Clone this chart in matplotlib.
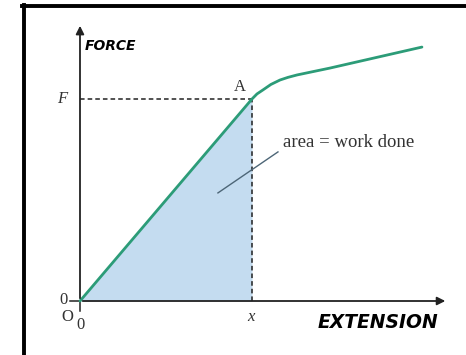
import matplotlib.pyplot as plt
from matplotlib.lines import Line2D

# green force-extension curve (extension in units of x, force in units of F)
ext = [0.0, 1.0, 1.029, 1.064, 1.110, 1.163, 1.209, 1.262, 1.453, 1.988]
force = [0.0, 1.0, 1.025, 1.045, 1.072, 1.094, 1.107, 1.119, 1.153, 1.257]
# shaded region under the linear part up to A
area_ext = [0.0, 1.0]
area_force = [0.0, 1.0]

fig = plt.figure(figsize=(4.66, 3.55), dpi=100)
ax = fig.add_axes([0, 0, 1, 1])
ax.set_xlim(-0.4651, 2.2442)
ax.set_ylim(-0.2673, 1.490)
ax.axis('off')

# frame (only top and left visible)
fig.add_artist(Line2D([23.8 / 466, 23.8 / 466], [0, 1 - 5 / 355], color='black', lw=2.8))
fig.add_artist(Line2D([22 / 466, 1], [1 - 6 / 355, 1 - 6 / 355], color='black', lw=2.8))

# axes with arrows
ax.annotate('', xy=(2.14, 0), xytext=(0, 0),
            arrowprops=dict(arrowstyle='-|>', color='#222222', lw=1.3, mutation_scale=12))
ax.annotate('', xy=(0, 1.376), xytext=(0, 0),
            arrowprops=dict(arrowstyle='-|>', color='#222222', lw=1.3, mutation_scale=12))

# small ticks at origin
ax.plot([-0.058, 0], [0, 0], color='#222222', lw=1.1)
ax.plot([0, 0], [0, -0.05], color='#222222', lw=1.1)

# shaded area
ax.fill_between(area_ext, area_force, 0, color='#c4dcf0', lw=0)

# dashed guides to A
ax.plot([0, 1], [1, 1], color='#222222', lw=1.1, ls=(0, (3, 2)))
ax.plot([1, 1], [0, 1], color='#222222', lw=1.1, ls=(0, (3, 2)))

# curve
ax.plot(ext, force, color='#2c9c78', lw=2.0, solid_capstyle='round', solid_joinstyle='round')

# pointer line
ax.plot([0.802, 1.151], [0.535, 0.738], color='#4d6677', lw=1.0)

comic = dict(fontweight='bold', fontstyle='italic', family='DejaVu Sans')
ax.text(0.03, 1.26, 'FORCE', fontsize=10, ha='left', va='center', **comic)
ax.text(1.38, -0.105, 'EXTENSION', fontsize=13.5, ha='left', va='center', **comic)

serif = dict(family='Liberation Serif', color='#333333')
ax.text(-0.075, 1.0, 'F', fontsize=12, fontstyle='italic', ha='right', va='center', **serif)
ax.text(-0.07, 0.005, '0', fontsize=12, ha='right', va='center', **serif)
ax.text(-0.075, -0.08, 'O', fontsize=12, ha='center', va='center', **serif)
ax.text(0.005, -0.12, '0', fontsize=12, ha='center', va='center', **serif)
ax.text(0.995, -0.08, 'x', fontsize=12, fontstyle='italic', ha='center', va='center', **serif)
ax.text(0.93, 1.058, 'A', fontsize=12, ha='center', va='center', **serif)
ax.text(1.18, 0.785, 'area = work done', fontsize=13.5, ha='left', va='center', **serif)

fig.savefig('out.png', dpi=100)
